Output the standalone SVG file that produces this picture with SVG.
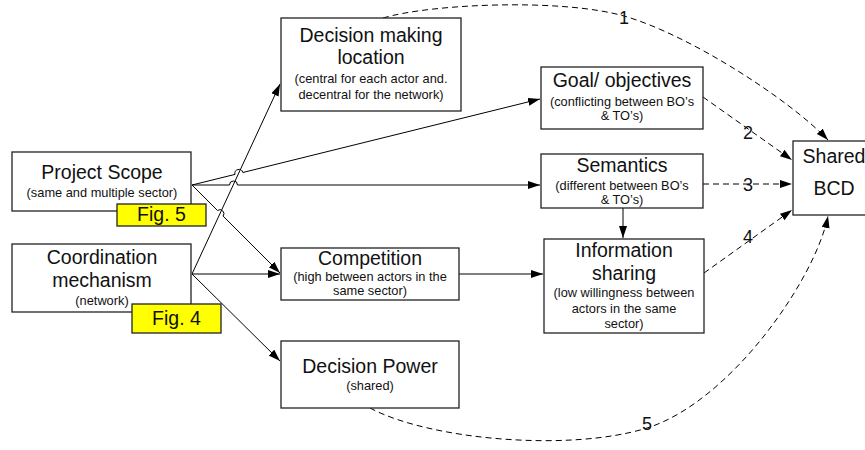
<svg xmlns="http://www.w3.org/2000/svg" width="865" height="450" viewBox="0 0 865 450">
<style>
.box{fill:#fff;stroke:#222;stroke-width:1.3}
.fig{fill:#ffff00;stroke:#222;stroke-width:1.3}
.t{font-family:"Liberation Sans",Arial,sans-serif;font-size:19.5px;fill:#111;text-anchor:middle}
.s{font-family:"Liberation Sans",Arial,sans-serif;font-size:12.8px;fill:#111;text-anchor:middle}
.n{font-family:"Liberation Sans",Arial,sans-serif;font-size:18px;fill:#111;text-anchor:middle}
.c{fill:none;stroke:#000;stroke-width:1}
.d{fill:none;stroke:#000;stroke-width:1;stroke-dasharray:6,4}
</style>
<defs>
<marker id="ah" markerUnits="userSpaceOnUse" markerWidth="13" markerHeight="9" refX="12" refY="4" orient="auto">
<path d="M0,0 L12,4 L0,8 z" fill="#000"/>
</marker>
</defs>
<g id="connectors">
<path class="c" d="M192,274 L280,84" marker-end="url(#ah)"/>
<path class="c" d="M192,185 L235,174.4 A4,4 0 0 1 242.8,172.5 L540,99" marker-end="url(#ah)"/>
<path class="c" d="M192,185 L229.5,185 A4,4 0 0 1 237.5,185 L540,185" marker-end="url(#ah)"/>
<path class="c" d="M192,185 L217.5,210.5 A4,4 0 0 1 223.1,216.1 L280,273" marker-end="url(#ah)"/>
<path class="c" d="M192,274 L280,274" marker-end="url(#ah)"/>
<path class="c" d="M192,274 L280,361" marker-end="url(#ah)"/>
<path class="c" d="M459,274 L543,274" marker-end="url(#ah)"/>
<path class="c" d="M623,208 L623,238" marker-end="url(#ah)"/>
<path class="d" d="M383,18 C430,4 560,-2 624,16 C690,35 790,100 828,140" marker-end="url(#ah)"/>
<path class="d" d="M703,97 L792,160" marker-end="url(#ah)"/>
<path class="d" d="M703,184 L792,184" marker-end="url(#ah)"/>
<path class="d" d="M704,273 L792,210" marker-end="url(#ah)"/>
<path class="d" d="M370,408 C430,440 570,452 647,428 C730,402 815,280 828,216" marker-end="url(#ah)"/>
<text class="n" x="624" y="24">1</text>
<text class="n" x="748" y="139">2</text>
<text class="n" x="748" y="191">3</text>
<text class="n" x="748" y="243">4</text>
<text class="n" x="647" y="430">5</text>
</g>
<g id="project-scope">
<rect class="box" x="12" y="152" width="179" height="59"/>
<text class="t" x="102" y="179">Project Scope</text>
<text class="s" x="102" y="197">(same and multiple sector)</text>
</g>
<g id="fig5">
<rect class="fig" x="117" y="204" width="89" height="22"/>
<text class="t" x="161.5" y="221">Fig. 5</text>
</g>
<g id="coordination-mechanism">
<rect class="box" x="12" y="244" width="179" height="68"/>
<text class="t" x="102" y="264">Coordination</text>
<text class="t" x="102" y="287">mechanism</text>
<text class="s" x="102" y="305">(network)</text>
</g>
<g id="fig4">
<rect class="fig" x="132" y="304" width="89" height="29"/>
<text class="t" x="176.5" y="325">Fig. 4</text>
</g>
<g id="decision-making-location">
<rect class="box" x="281" y="18" width="180" height="93"/>
<text class="t" x="371" y="42">Decision making</text>
<text class="t" x="371" y="64">location</text>
<text class="s" x="371" y="83">(central for each actor and.</text>
<text class="s" x="371" y="99">decentral for the network)</text>
</g>
<g id="goal-objectives">
<rect class="box" x="541" y="67" width="162" height="62"/>
<text class="t" x="622" y="87">Goal/ objectives</text>
<text class="s" x="622" y="106">(conflicting between BO’s</text>
<text class="s" x="622" y="120">&amp; TO’s)</text>
</g>
<g id="semantics">
<rect class="box" x="541" y="154" width="162" height="54"/>
<text class="t" x="622" y="172">Semantics</text>
<text class="s" x="622" y="190">(different between BO’s</text>
<text class="s" x="622" y="204">&amp; TO’s)</text>
</g>
<g id="information-sharing">
<rect class="box" x="544" y="239" width="160" height="94"/>
<text class="t" x="624" y="257">Information</text>
<text class="t" x="624" y="280">sharing</text>
<text class="s" x="624" y="297">(low willingness between</text>
<text class="s" x="624" y="313">actors in the same</text>
<text class="s" x="624" y="328">sector)</text>
</g>
<g id="competition">
<rect class="box" x="281" y="248" width="178" height="52"/>
<text class="t" x="370" y="265">Competition</text>
<text class="s" x="370" y="281">(high between actors in the</text>
<text class="s" x="370" y="295">same sector)</text>
</g>
<g id="decision-power">
<rect class="box" x="281" y="341" width="178" height="67"/>
<text class="t" x="370" y="373">Decision Power</text>
<text class="s" x="370" y="390">(shared)</text>
</g>
<g id="shared-bcd">
<rect class="box" x="793" y="141" width="83" height="74"/>
<text class="t" x="834" y="163">Shared</text>
<text class="t" x="834" y="195">BCD</text>
</g>
</svg>
